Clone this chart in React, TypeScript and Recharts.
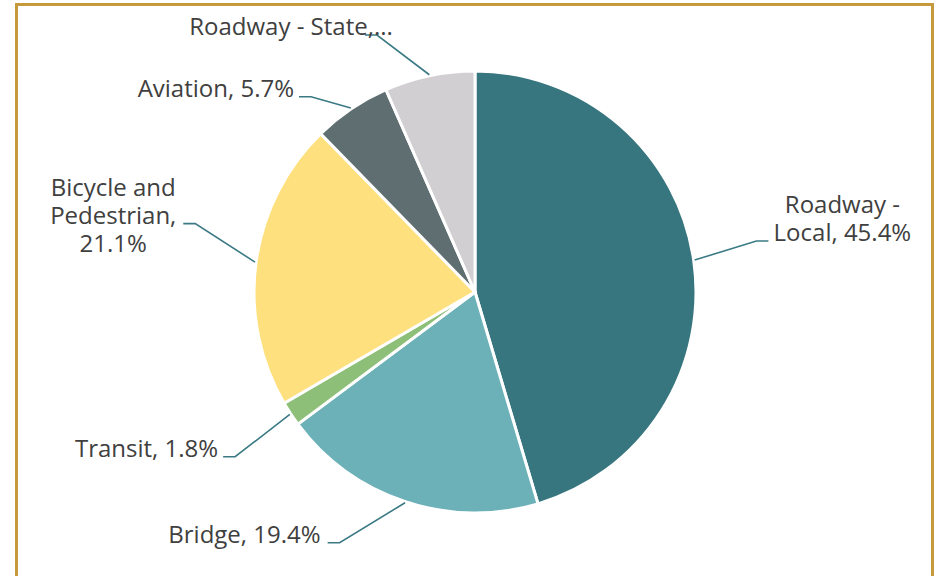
import React from 'react';
import { PieChart, Pie, Cell } from 'recharts';

// categories and shares (%), clockwise from 12 o'clock
const categories = ['Roadway - Local', 'Bridge', 'Transit', 'Bicycle and Pedestrian', 'Aviation', 'Roadway - State'];
const shares = [45.4, 19.4, 1.8, 21.1, 5.7, 6.6];
const colors = ['#37767e', '#6cb1b8', '#8dbf79', '#fee07e', '#5f6e70', '#d1cfd2'];

// data label text, as wrapped in the original
const labelLines = [
  ['Roadway -', 'Local, 45.4%'],
  ['Bridge, 19.4%'],
  ['Transit, 1.8%'],
  ['Bicycle and', 'Pedestrian,', '21.1%'],
  ['Aviation, 5.7%'],
  ['Roadway - State,...']
];

// label placement: angle nudge (deg, clockwise), extra radius, elbow direction, text anchor/offset, which line sits on the leader
const labelLayout = [
  { da: -2, dr: 65, side: 1, anchor: 'middle', tx: 74, baseLine: 1 },
  { da: 10, dr: 64, side: -1, anchor: 'end', tx: -7, baseLine: 0 },
  { da: -1, dr: 70, side: -1, anchor: 'end', tx: -5, baseLine: 0 },
  { da: 6, dr: 67, side: -1, anchor: 'middle', tx: -70, baseLine: 1 },
  { da: -6, dr: 34, side: -1, anchor: 'end', tx: -5, baseLine: 0 },
  { da: -9, dr: 54, side: -1, anchor: 'middle', tx: -74, baseLine: 0 }
];

const data = categories.map((name, i) => ({ name, value: shares[i] }));

const RADIAN = Math.PI / 180;
const polar = (cx: number, cy: number, r: number, angle: number) => ({
  x: cx + r * Math.cos(-angle * RADIAN),
  y: cy + r * Math.sin(-angle * RADIAN)
});

const renderLabel = ({ cx, cy, midAngle, outerRadius, index }: any) => {
  const lay = labelLayout[index];
  const start = polar(cx, cy, outerRadius + 1, midAngle);
  const elbow = polar(cx, cy, outerRadius + lay.dr, midAngle - lay.da);
  const hEnd = elbow.x + lay.side * 12;
  const lines = labelLines[index];
  return (
    <g key={`lbl-${index}`}>
      <polyline
        points={`${start.x},${start.y} ${elbow.x},${elbow.y} ${hEnd},${elbow.y}`}
        fill="none"
        stroke="#3a7a84"
        strokeWidth={1.6}
      />
      <text
        x={hEnd + lay.tx}
        y={elbow.y}
        textAnchor={lay.anchor}
        fill="#404040"
        fontSize={24}
        fontFamily="'Open Sans', sans-serif"
      >
        {lines.map((line, k) => (
          <tspan key={k} x={hEnd + lay.tx} y={elbow.y + (k - lay.baseLine) * 28}>
            {line}
          </tspan>
        ))}
      </text>
    </g>
  );
};

export default function App() {
  return (
    <div style={{ position: 'absolute', left: 0, top: 0, width: 934, height: 576, overflow: 'hidden', background: '#fff' }}>
      <div
        style={{
          position: 'absolute',
          left: 15,
          top: 3,
          width: 919,
          height: 640,
          boxSizing: 'border-box',
          border: '3px solid #c49a3c'
        }}
      />
      <div style={{ position: 'absolute', left: 0, top: 0 }}>
        <PieChart width={934} height={576} margin={{ top: 0, right: 0, bottom: 0, left: 0 }}>
          <Pie
            data={data}
            dataKey="value"
            nameKey="name"
            cx={475}
            cy={292}
            outerRadius={221}
            startAngle={90}
            endAngle={-270}
            stroke="#ffffff"
            strokeWidth={3}
            labelLine={false}
            label={renderLabel}
            isAnimationActive={false}
          >
            {data.map((entry, index) => (
              <Cell key={`cell-${index}`} fill={colors[index]} />
            ))}
          </Pie>
        </PieChart>
      </div>
    </div>
  );
}
